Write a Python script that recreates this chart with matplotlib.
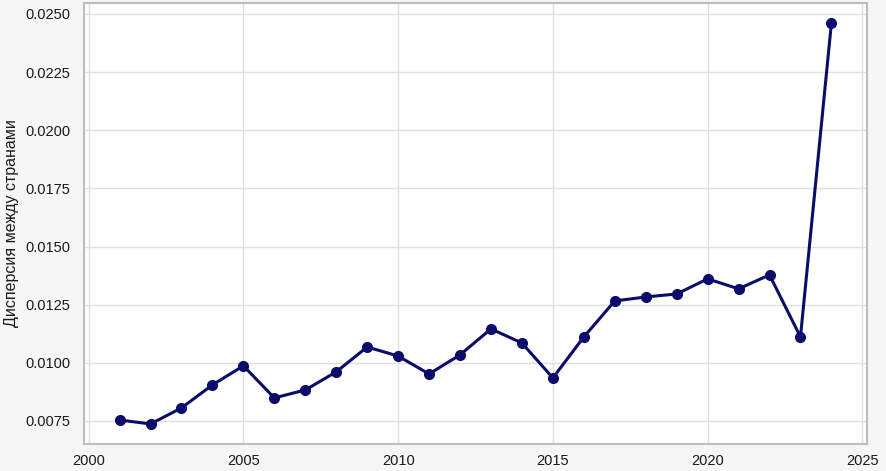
import numpy as np
import matplotlib
matplotlib.use("Agg")
import matplotlib.pyplot as plt

# dispersion between countries per year
years = [2001, 2002, 2003, 2004, 2005, 2006, 2007, 2008, 2009, 2010, 2011, 2012,
         2013, 2014, 2015, 2016, 2017, 2018, 2019, 2020, 2021, 2022, 2023, 2024]
dispersion = [0.00754, 0.00737, 0.00806, 0.00905, 0.00987, 0.00849, 0.00883, 0.00961,
              0.01068, 0.01029, 0.00952, 0.01034, 0.01146, 0.01085, 0.00935, 0.01111,
              0.01266, 0.01283, 0.01296, 0.01361, 0.01318, 0.01378, 0.01111, 0.02461]
ylabel = "Дисперсия между странами"

plt.rcParams["font.family"] = ["Liberation Sans", "DejaVu Sans"]

fig = plt.figure(figsize=(8.86, 4.71), dpi=100, facecolor="#f6f6f6")
ax = fig.add_axes([84 / 886, 27 / 471, 783 / 886, 441 / 471])
ax.set_facecolor("white")

ax.plot(years, dispersion, color="#0b0b6c", linewidth=2.2, marker="o", markersize=7)

ax.set_ylabel(ylabel, fontsize=11.5, color="#1a1a1a", labelpad=4)
ax.set_xticks([2000, 2005, 2010, 2015, 2020, 2025])
ax.set_yticks(np.arange(0.0075, 0.0251, 0.0025))
ax.yaxis.set_major_formatter(matplotlib.ticker.FormatStrFormatter("%.4f"))
ax.tick_params(axis="y", length=0, labelsize=10.5, colors="#1a1a1a", pad=10)
ax.tick_params(axis="x", length=0, labelsize=10.5, colors="#1a1a1a", pad=7)

ax.grid(True, color="#e0e0e0", linewidth=1)
ax.set_axisbelow(True)
for s in ax.spines.values():
    s.set_color("#bdbdbd")
    s.set_linewidth(1.5)

fig.savefig("out.png", dpi=100, facecolor=fig.get_facecolor())
